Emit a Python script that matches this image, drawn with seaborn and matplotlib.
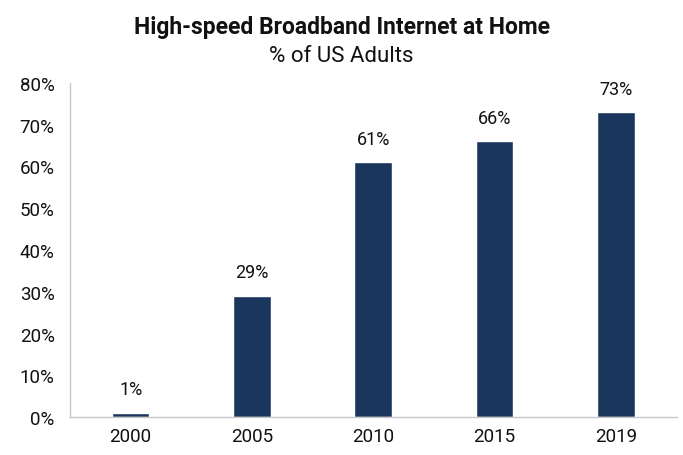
import matplotlib
matplotlib.use("Agg")
import matplotlib.pyplot as plt
import seaborn as sns
import pandas as pd

years = ["2000", "2005", "2010", "2015", "2019"]
share = [1, 29, 61, 66, 73]
yticks = [0, 10, 20, 30, 40, 50, 60, 70, 80]

sns.set_theme(style="white")
plt.rcParams["font.family"] = ["Roboto", "DejaVu Sans"]

df = pd.DataFrame({"year": years, "share": share})

fig = plt.figure(figsize=(6.83, 4.56), dpi=100)
ax = fig.add_axes([0.1025, 0.083, 0.888, 0.733])
sns.barplot(data=df, x="year", y="share", color="#1b365d", width=0.31,
            saturation=1, ax=ax)

# value labels above bars
for i, v in enumerate(share):
    ax.text(i, v + 3.5, f"{v}%", ha="center", va="bottom", fontsize=13, color="#111111")

ax.set_ylim(0, 80)
ax.set_xlim(-0.5, 4.5)
ax.set_yticks(yticks)
ax.set_yticklabels([f"{t}%" for t in yticks], fontsize=13.5, color="#111111")
ax.tick_params(axis="x", labelsize=13.5, pad=7, colors="#111111", length=0)
ax.tick_params(axis="y", pad=11, length=0)
ax.set_xlabel("")
ax.set_ylabel("")
for s in ["top", "right"]:
    ax.spines[s].set_visible(False)
for s in ["left", "bottom"]:
    ax.spines[s].set_color("#c8c8c8")
    ax.spines[s].set_linewidth(1)

fig.text(0.5, 0.94, "High-speed Broadband Internet at Home", ha="center", va="center",
         fontsize=16.5, fontweight="bold", color="#111111")
fig.text(0.5, 0.875, "% of US Adults", ha="center", va="center", fontsize=16,
         color="#111111")

fig.savefig("out.png", dpi=100)
